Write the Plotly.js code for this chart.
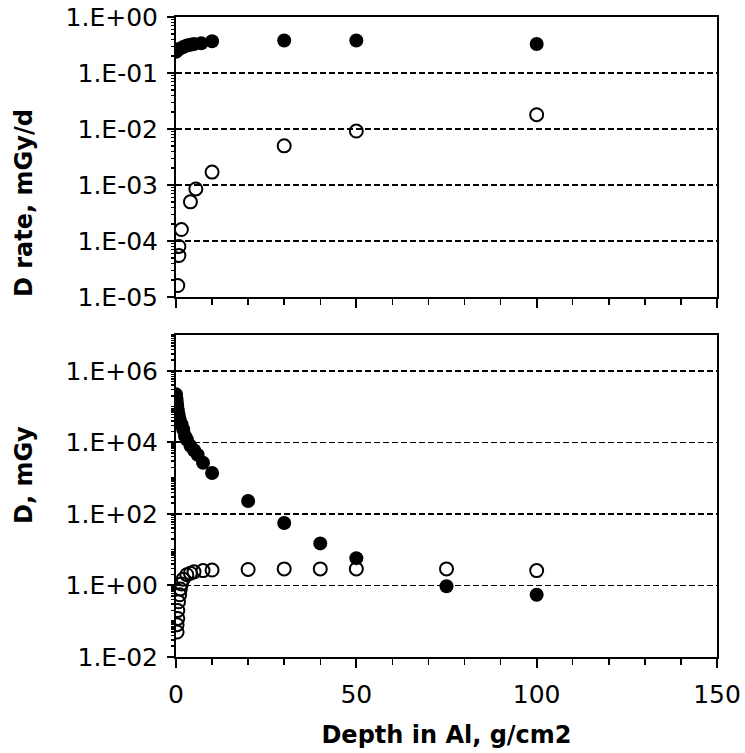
<!DOCTYPE html>
<html>
<head>
<meta charset="utf-8">
<script src="https://cdn.plot.ly/plotly-3.0.1.min.js"></script>
<style>html,body{margin:0;padding:0;background:#fff;}#chart{width:745px;height:753px;}</style>
</head>
<body>
<div id="chart"></div>
<script>
// ---- Data ----
// Top panel: dose rate, mGy/d
const rateDepthFilled = [0, 0.5, 1, 2, 3, 4, 5, 7, 10, 30, 50, 100];
const rateFilled      = [0.24, 0.26, 0.27, 0.29, 0.31, 0.32, 0.33, 0.34, 0.37, 0.38, 0.38, 0.33];
const rateDepthOpen   = [0.5, 0.8, 0.8, 1.5, 4, 5.5, 10, 30, 50, 100];
const rateOpen        = [1.6e-5, 5.5e-5, 8e-5, 1.6e-4, 5e-4, 8.5e-4, 1.7e-3, 5e-3, 9.2e-3, 1.8e-2];
// Bottom panel: dose, mGy
const doseDepthFilled = [0, 0.1, 0.2, 0.3, 0.5, 0.7, 1, 1.5, 2, 2.5, 3, 4, 5, 6, 7.5, 10, 20, 30, 40, 50, 75, 100];
const doseFilled      = [2.2e5, 1.7e5, 1.4e5, 1.1e5, 8e4, 6e4, 4.5e4, 3.2e4, 2.3e4, 1.5e4, 1.2e4, 8e3, 6e3, 4.5e3, 2.7e3, 1.4e3, 230, 56, 15, 5.8, 0.95, 0.55];
const doseDepthOpen   = [0.3, 0.3, 0.5, 0.5, 0.7, 1, 1.2, 1.5, 2, 3, 4, 5, 7.5, 10, 20, 30, 40, 50, 75, 100];
const doseOpen        = [0.05, 0.08, 0.12, 0.2, 0.35, 0.55, 0.8, 1.1, 1.5, 2.0, 2.2, 2.4, 2.6, 2.7, 2.8, 2.9, 2.9, 2.9, 2.9, 2.6];
// Tick labels
const rateTickVals  = [1e-5, 1e-4, 1e-3, 1e-2, 1e-1, 1];
const rateTickText  = ['1.E-05', '1.E-04', '1.E-03', '1.E-02', '1.E-01', '1.E+00'];
const doseTickVals  = [1e-2, 1, 1e2, 1e4, 1e6];
const doseTickText  = ['1.E-02', '1.E+00', '1.E+02', '1.E+04', '1.E+06'];
const xTitle = 'Depth in Al, g/cm2';
const rateTitle = 'D rate, mGy/d';
const doseTitle = 'D, mGy';

const FONT = 'DejaVu Sans, Verdana, sans-serif';
const TICK_SIZE = 25;
const TITLE_SIZE = 24;
const openMarker = {symbol: 'circle-open', size: 13, color: '#000', line: {color: '#000', width: 2}};
const fillMarker = {symbol: 'circle', size: 14, color: '#000', line: {width: 0}};

const traces = [
  {x: rateDepthOpen, y: rateOpen, xaxis: 'x2', yaxis: 'y2', mode: 'markers', marker: openMarker, showlegend: false},
  {x: rateDepthFilled, y: rateFilled, xaxis: 'x2', yaxis: 'y2', mode: 'markers', marker: fillMarker, showlegend: false},
  {x: doseDepthOpen, y: doseOpen, xaxis: 'x', yaxis: 'y', mode: 'markers', marker: openMarker, showlegend: false},
  {x: doseDepthFilled, y: doseFilled, xaxis: 'x', yaxis: 'y', mode: 'markers', marker: fillMarker, showlegend: false},
  // carriers for the extra tick axes
  {x: [null], y: [null], xaxis: 'x', yaxis: 'y3', mode: 'markers', showlegend: false, hoverinfo: 'skip'},
  {x: [null], y: [null], xaxis: 'x2', yaxis: 'y4', mode: 'markers', showlegend: false, hoverinfo: 'skip'},
  {x: [null], y: [null], xaxis: 'x', yaxis: 'y5', mode: 'markers', showlegend: false, hoverinfo: 'skip'},
  {x: [null], y: [null], xaxis: 'x2', yaxis: 'y6', mode: 'markers', showlegend: false, hoverinfo: 'skip'}
];

const xCommon = {
  range: [0, 150], dtick: 50, tick0: 0, ticks: 'outside', ticklen: 9, tickwidth: 2, tickcolor: '#000',
  minor: {dtick: 10, ticks: 'outside', ticklen: 6, tickwidth: 1.5, tickcolor: '#000', showgrid: false},
  showline: true, linewidth: 2, linecolor: '#000', mirror: true, showgrid: false, zeroline: false,
  tickfont: {family: FONT, size: TICK_SIZE, color: '#000'}
};
const yCommon = {
  type: 'log', tickmode: 'array', ticks: 'outside', ticklen: 7, tickwidth: 2, tickcolor: '#000',
  showline: true, linewidth: 2, linecolor: '#000', mirror: true, zeroline: false,
  showgrid: true, gridcolor: '#000', gridwidth: 1.5, griddash: '6px,3px',
  tickfont: {family: FONT, size: TICK_SIZE, color: '#000'}, ticklabelstandoff: 4
};
const minorAxis = {type: 'log', dtick: 'D1', ticks: 'outside', ticklen: 4, tickwidth: 1.5, tickcolor: '#000',
  showticklabels: false, showgrid: false, showline: false, zeroline: false, side: 'left'};
const innerAxis = {type: 'log', tickmode: 'array', ticks: 'inside', ticklen: 5, tickwidth: 2, tickcolor: '#000',
  showticklabels: false, showgrid: false, showline: false, zeroline: false, side: 'left'};

const layout = {
  width: 745, height: 753,
  margin: {l: 176, r: 28, t: 17, b: 96},
  paper_bgcolor: '#fff', plot_bgcolor: '#fff',
  font: {family: FONT, color: '#000'},
  xaxis: Object.assign({}, xCommon, {anchor: 'y', domain: [0, 1], ticklabelstandoff: 5,
    title: {text: '<b>' + xTitle + '</b>', font: {family: FONT, size: TITLE_SIZE, color: '#000'}, standoff: 18}}),
  xaxis2: Object.assign({}, xCommon, {anchor: 'y2', domain: [0, 1], showticklabels: false}),
  yaxis: Object.assign({}, yCommon, {domain: [0, 0.503], range: [-2, 7], anchor: 'x',
    tickvals: doseTickVals, ticktext: doseTickText}),
  yaxis2: Object.assign({}, yCommon, {domain: [0.5625, 1], range: [-5, 0], anchor: 'x2',
    tickvals: rateTickVals, ticktext: rateTickText}),
  yaxis3: Object.assign({}, minorAxis, {overlaying: 'y', range: [-2, 7], anchor: 'x'}),
  yaxis4: Object.assign({}, minorAxis, {overlaying: 'y2', range: [-5, 0], anchor: 'x2'}),
  yaxis5: Object.assign({}, innerAxis, {overlaying: 'y', range: [-2, 7], anchor: 'x', tickvals: doseTickVals}),
  yaxis6: Object.assign({}, innerAxis, {overlaying: 'y2', range: [-5, 0], anchor: 'x2', tickvals: rateTickVals}),
  annotations: [
    {text: '<b>' + rateTitle + '</b>', textangle: -90, xref: 'paper', yref: 'paper',
     x: (24 - 176) / 541, y: (657 - 203) / 640, xanchor: 'center', yanchor: 'middle', showarrow: false,
     font: {family: FONT, size: TITLE_SIZE, color: '#000'}},
    {text: '<b>' + doseTitle + '</b>', textangle: -90, xref: 'paper', yref: 'paper',
     x: (24 - 176) / 541, y: (657 - 475) / 640, xanchor: 'center', yanchor: 'middle', showarrow: false,
     font: {family: FONT, size: TITLE_SIZE, color: '#000'}}
  ]
};

Plotly.newPlot('chart', traces, layout, {displayModeBar: false, staticPlot: true});
</script>
</body>
</html>
